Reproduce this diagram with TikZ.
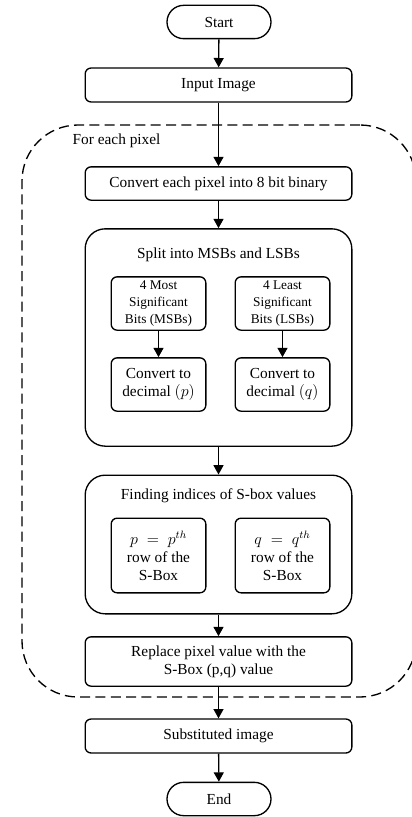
\documentclass[tikz,border=0pt]{standalone}
\usepackage{fontspec}
\setmainfont{Liberation Serif}
\usetikzlibrary{arrows.meta}
\begin{document}
\begin{tikzpicture}[x=0.75pt,y=-0.75pt,font=\fontsize{11.5}{13.5}\selectfont,
  box/.style={draw, line width=1pt, rounded corners=4.5pt, align=center, inner sep=1pt},
  term/.style={box, rounded corners=12.5pt, minimum width=78pt, minimum height=25pt},
  wide/.style={box, minimum width=200pt},
  small/.style={box, minimum width=71pt},
  group/.style={draw, line width=1pt, rounded corners=15pt, minimum width=200pt},
  flow/.style={draw, line width=1pt, -{Triangle[length=7pt,width=7.5pt]}}]
\useasboundingbox (0,0) rectangle (411,817);

\node[draw, dashed, line width=1pt, dash pattern=on 7.5pt off 4pt, rounded corners=42pt,
  minimum width=295.5pt, minimum height=429pt] (loop) at (219,411) {};
\node[anchor=west] (looplabel) at (68,141) {For each pixel};

\node[group, minimum height=163pt] (split) at (218.5,337.5) {};
\node (splittitle) at (218.5,255) {Split into MSBs and LSBs};
\node[group, minimum height=104pt] (find) at (218.5,544.5) {};
\node (findtitle) at (218.5,496) {Finding indices of S-box values};

\node[term] (start) at (219,22) {Start};
\node[wide, minimum height=25.5pt] (input) at (218.5,85) {Input Image};
\node[wide, minimum height=25pt] (conv) at (218.5,183.5) {Convert each pixel into 8 bit binary};
\node[small, minimum height=40pt, font=\fontsize{10}{12.4}\selectfont] (msb) at (158.5,303.5) {4 Most\\Significant\\Bits (MSBs)};
\node[small, minimum height=40pt, font=\fontsize{10}{12.4}\selectfont] (lsb) at (282.5,303.5) {4 Least\\Significant\\Bits (LSBs)};
\node[small, minimum height=40pt] (decp) at (158.5,384.5) {Convert to\\decimal $(p)$};
\node[small, minimum height=40pt] (decq) at (282.5,384.5) {Convert to\\decimal $(q)$};
\node[small, minimum height=56pt] (rowp) at (158.5,555.5) {$p\;=\;p^{th}$\\row of the\\S-Box};
\node[small, minimum height=56pt] (rowq) at (282.5,555.5) {$q\;=\;q^{th}$\\row of the\\S-Box};
\node[wide, minimum height=37pt] (replace) at (218.5,661.5) {Replace pixel value with the\\S-Box (p,q) value};
\node[wide, minimum height=25.5pt] (subst) at (218.5,736) {Substituted image};
\node[term] (end) at (219,799) {End};

\path[flow] (start) -- (input);
\path[flow] (input) -- (conv);
\path[flow] (conv) -- (split);
\path[flow] (msb) -- (decp);
\path[flow] (lsb) -- (decq);
\path[flow] (split) -- (find);
\path[flow] (find) -- (replace);
\path[flow] (replace) -- (subst);
\path[flow] (subst) -- (end);
\end{tikzpicture}
\end{document}
